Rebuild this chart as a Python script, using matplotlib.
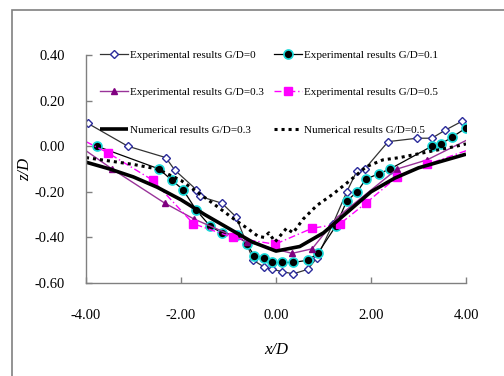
import matplotlib
matplotlib.use("Agg")
import matplotlib.pyplot as plt
from matplotlib.patches import Rectangle

plt.rcParams['font.family'] = ['Liberation Serif', 'DejaVu Serif']

# ---- data ----
x_gd0 = [-3.96, -3.12, -2.32, -2.13, -1.68, -1.60, -1.14, -0.84, -0.48, -0.25, -0.08, 0.13, 0.36, 0.67, 0.86,
         1.20, 1.49, 1.70, 1.87, 2.36, 2.97, 3.28, 3.56, 3.92]
y_gd0 = [0.10, 0.00, -0.05, -0.105, -0.19, -0.22, -0.25, -0.31, -0.50, -0.53, -0.54, -0.55, -0.56, -0.54, -0.49,
         -0.34, -0.20, -0.11, -0.10, 0.02, 0.035, 0.035, 0.07, 0.11]

x_gd01 = [-3.77, -2.46, -2.19, -1.96, -1.68, -1.39, -1.14, -0.82, -0.61, -0.46, -0.25, -0.08, 0.13, 0.36, 0.67, 0.88,
          1.26, 1.49, 1.71, 1.89, 2.17, 2.40, 3.28, 3.47, 3.71, 4.00]
y_gd01 = [0.00, -0.10, -0.15, -0.19, -0.28, -0.35, -0.38, -0.39, -0.43, -0.48, -0.49, -0.51, -0.51, -0.51, -0.50, -0.47,
          -0.35, -0.24, -0.20, -0.145, -0.12, -0.10, 0.00, 0.01, 0.04, 0.08]

x_gd03 = [-4.00, -3.45, -2.34, -1.72, -0.61, 0.34, 0.76, 1.30, 2.55, 3.18, 4.00]
y_gd03 = [-0.02, -0.10, -0.25, -0.32, -0.42, -0.47, -0.45, -0.31, -0.10, -0.06, 0.025]
mk_gd03 = [1, 2, 3, 4, 5, 6, 8, 9]

x_gd05 = [-4.00, -3.53, -2.59, -1.74, -0.91, -0.02, 0.76, 1.35, 1.89, 2.55, 3.18, 4.00]
y_gd05 = [0.02, -0.03, -0.15, -0.34, -0.40, -0.43, -0.36, -0.34, -0.25, -0.135, -0.08, -0.02]
mk_gd05 = list(range(1, 11))

x_num03 = [-4.0, -3.5, -3.0, -2.5, -2.0, -1.5, -1.0, -0.5, 0.0, 0.5, 1.0, 1.5, 2.0, 2.5, 3.0, 3.5, 4.0]
y_num03 = [-0.07, -0.10, -0.135, -0.18, -0.235, -0.30, -0.36, -0.42, -0.46, -0.44, -0.38, -0.29, -0.20, -0.14,
           -0.095, -0.065, -0.035]

x_num05 = [-4.0, -3.5, -3.0, -2.5, -2.0, -1.6, -1.3, -0.85, -0.57, -0.38, -0.25, -0.15, -0.02, 0.10, 0.22, 0.36,
           0.57, 0.86, 1.20, 1.56, 1.90, 2.25, 2.60, 3.20, 3.80, 4.00]
y_num05 = [-0.05, -0.065, -0.08, -0.10, -0.15, -0.21, -0.255, -0.325, -0.365, -0.395, -0.40, -0.38, -0.42, -0.39,
           -0.36, -0.38, -0.32, -0.26, -0.21, -0.15, -0.09, -0.06, -0.05, -0.025, 0.00, 0.01]

labels = ["Experimental results G/D=0", "Experimental results G/D=0.1",
          "Experimental results G/D=0.3", "Experimental results G/D=0.5",
          "Numerical results G/D=0.3", "Numerical results G/D=0.5"]

xticks = [-4, -2, 0, 2, 4]
yticks = [-0.6, -0.4, -0.2, 0.0, 0.2, 0.4]

# ---- figure ----
fig = plt.figure(figsize=(5.04, 3.76), dpi=100)
fig.patches.append(Rectangle((12 / 504, -0.1), 1.2, 1 - 10 / 376 + 0.1, transform=fig.transFigure,
                             fill=False, edgecolor='#808080', linewidth=1.2, zorder=0))
ax = fig.add_axes([86 / 504, 1 - 283 / 376, 380 / 504, 228 / 376])

h0, = ax.plot(x_gd0, y_gd0, color='#333333', lw=0.9, marker='D', ms=3.6, mfc='white', mec='#2b2b9b', mew=1.0)
h1, = ax.plot(x_gd01, y_gd01, color='black', lw=0.9, marker='o', ms=6.5, mfc='black', mec='#19d9d9', mew=1.2)
h2, = ax.plot(x_gd03, y_gd03, color='#993399', lw=1.0, marker='^', ms=5, mfc='#800080', mec='#800080',
              markevery=mk_gd03)
h3, = ax.plot(x_gd05, y_gd05, color='#ff00ff', lw=1.0, ls=(0, (5, 2, 1, 2)), marker='s', ms=6,
              mfc='#ff00ff', mec='#ff00ff', markevery=mk_gd05)
h4, = ax.plot(x_num03, y_num03, color='black', lw=2.6, solid_capstyle='butt')
h5, = ax.plot(x_num05, y_num05, color='black', lw=2.2, ls=(0, (1, 1.3)))

ax.set_xlim(-4, 4)
ax.set_ylim(-0.6, 0.4)
ax.set_xticks(xticks)
ax.set_yticks(yticks)
ax.set_xticklabels([f"{v:.2f}" for v in xticks], fontsize=10.5)
ax.set_yticklabels([f"{v:.2f}" for v in yticks], fontsize=10.5)
ax.tick_params(axis='both', direction='in', length=4, color='#808080', width=1)
ax.tick_params(axis='x', pad=19)
ax.tick_params(axis='y', pad=15)
for s in ['top', 'right']:
    ax.spines[s].set_visible(False)
for s in ['left', 'bottom']:
    ax.spines[s].set_color('#808080')
    ax.spines[s].set_linewidth(1.0)

ax.set_xlabel('x/D', fontsize=12, style='italic', labelpad=14)
ax.set_ylabel('z/D', fontsize=12, style='italic', labelpad=1)

handles = [h0, h1, h2, h3, h4, h5]
order = [0, 2, 4, 1, 3, 5]
leg = ax.legend([handles[i] for i in order], [labels[i] for i in order], ncol=2, frameon=False, fontsize=8,
                loc='upper left', bbox_to_anchor=(100 / 504, 1 - 50 / 376), bbox_transform=fig.transFigure,
                borderaxespad=0, borderpad=0, handlelength=2.5, handletextpad=0.2, columnspacing=0.9,
                labelspacing=2.5)

fig.savefig('out.png', dpi=100)
